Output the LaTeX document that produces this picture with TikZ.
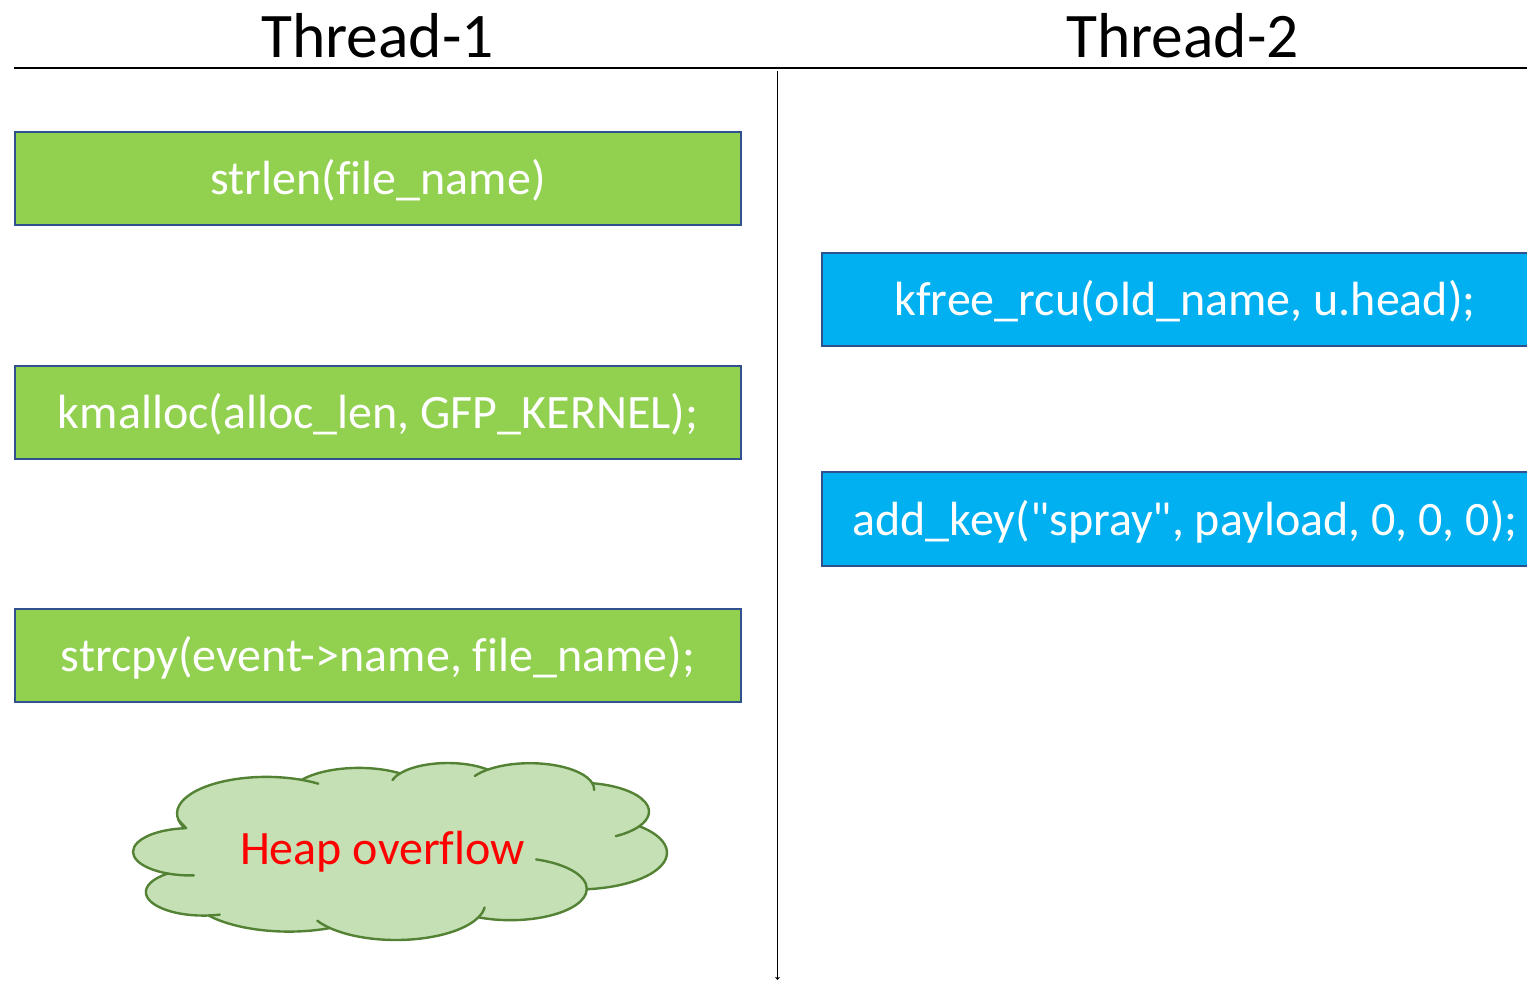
\documentclass[tikz,border=0pt]{standalone}
\usepackage{fontspec}
\setmainfont{Carlito}[Ligatures=NoCommon]
\usetikzlibrary{arrows.meta}
\definecolor{gfill}{HTML}{92D050}
\definecolor{bfill}{HTML}{00B0F0}
\definecolor{bordc}{HTML}{2F528F}
\definecolor{cloudfill}{HTML}{C5E0B4}
\definecolor{clouddraw}{HTML}{548235}
\definecolor{heapred}{HTML}{FF0000}
\newcommand\straightdq{\XeTeXglyph\XeTeXcharglyph34\relax}
\begin{document}
\begin{tikzpicture}[x=1pt,y=-1pt,
  stepbox/.style={draw=bordc, line width=2pt, minimum width=726pt, minimum height=93pt,
    inner sep=0pt, text=white, text height=40.5pt, text depth=8.5pt,
    font=\fontsize{48}{56}\selectfont},
  greenbox/.style={stepbox, fill=gfill},
  bluebox/.style={stepbox, fill=bfill},
  title/.style={anchor=base, inner sep=0pt, font=\fontsize{63.5}{76}\selectfont},
  rule/.style={draw=black, line width=1.3pt},
  cloudline/.style={draw=clouddraw, line width=2.4pt, line join=round, line cap=round}]
\useasboundingbox (0,0) rectangle (1527,981);
\clip (0,0) rectangle (1527,981);

% titles and separators
\node[title] (t1) at (377.5,57.5) {Thread-1};
\node[title] (t2) at (1182.5,57.5) {Thread-2};
\coordinate (hl) at (14,68);
\coordinate (hr) at (1527,68);
\coordinate (vt) at (777.5,71);
\coordinate (vb) at (777.5,980);
\draw[rule] (hl) -- (hr);
\draw[rule, -{Stealth[length=3pt,width=5pt]}] (vt) -- (vb);

% thread 1
\node[greenbox] (s1) at (378,178.5) {strlen(file\_name)};
\node[greenbox] (s2) at (378,413) {kmalloc(alloc\_len, GFP\_KERNEL);};
\node[greenbox] (s3) at (378,655) {strcpy(event->name, file\_name);};

% thread 2
\node[bluebox] (k1) at (1185,300) {kfree\_rcu(old\_name, u.head);};
\node[bluebox] (k2) at (1185,519) {add\_key(\straightdq spray\straightdq, payload, 0, 0, 0);};

% cloud
\begin{scope}[shift={(127.0,762.92)}, x=1.32208pt, y=-0.39802pt]
\path[cloudline, fill=cloudfill] (39.00,143.70) coordinate (c0)
 arc[start angle=-190.488, delta angle=123.781, x radius=67.53, y radius=91.90] coordinate (c1)
 arc[start angle=-144.102, delta angle=89.945, x radius=53.33, y radius=72.67] coordinate (c2)
 arc[start angle=-145.808, delta angle=99.723, x radius=43.65, y radius=59.45] coordinate (c3)
 arc[start angle=-130.986, delta angle=117.242, x radius=48.57, y radius=65.95] coordinate (c4)
 arc[start angle=-78.709, delta angle=109.027, x radius=53.33, y radius=72.73] coordinate (c5)
 arc[start angle=-46.267, delta angle=130.269, x radius=67.75, y radius=92.20] coordinate (c6)
 arc[start angle=0.625, delta angle=114.033, x radius=57.85, y radius=78.67] coordinate (c7)
 arc[start angle=22.452, delta angle=115.173, x radius=67.52, y radius=92.15] coordinate (c8)
 arc[start angle=66.243, delta angle=75.711, x radius=77.20, y radius=105.43] coordinate (c9)
 arc[start angle=-274.942, delta angle=146.736, x radius=43.60, y radius=59.18] coordinate (c10)
 arc[start angle=-246.829, delta angle=152.519, x radius=43.45, y radius=59.45]
 -- cycle;
\path[cloudline]
 (c1) arc[start angle=-66.707, delta angle=12.319, x radius=67.53, y radius=91.90]
 (c2) arc[start angle=-145.808, delta angle=-17.700, x radius=43.65, y radius=59.45]
 (c3) arc[start angle=-130.986, delta angle=-18.196, x radius=48.57, y radius=65.95]
 (c4) arc[start angle=-13.744, delta angle=14.862, x radius=48.57, y radius=65.95]
 (c5) arc[start angle=30.318, delta angle=27.752, x radius=53.33, y radius=72.73]
 (c6) arc[start angle=0.625, delta angle=-70.917, x radius=57.85, y radius=78.67]
 (c7) arc[start angle=22.452, delta angle=-15.998, x radius=67.52, y radius=92.15]
 (c8) arc[start angle=137.625, delta angle=14.081, x radius=67.52, y radius=92.15]
 (c9) arc[start angle=85.058, delta angle=-11.447, x radius=43.60, y radius=59.18]
 (c10) arc[start angle=113.171, delta angle=-26.430, x radius=43.45, y radius=59.45]
 (c0) arc[start angle=169.512, delta angle=-11.858, x radius=67.53, y radius=91.90];
\end{scope}
\node[anchor=base, inner sep=0pt, text=heapred, font=\fontsize{48}{56}\selectfont] (heap) at (382.5,864) {Heap overflow};
\end{tikzpicture}
\end{document}
